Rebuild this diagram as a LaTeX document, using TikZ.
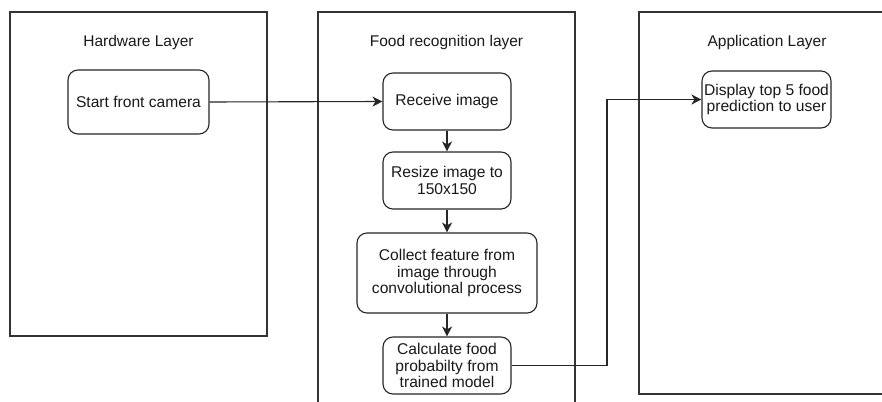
\documentclass[tikz,border=0pt]{standalone}
\usepackage{fontspec}
\setmainfont{Liberation Sans}
\usetikzlibrary{arrows.meta}
\begin{document}
\begin{tikzpicture}[x=1pt,y=-1pt,
  layer/.style={draw=black!80,line width=1.1pt,rectangle,inner sep=0pt},
  ttl/.style={font=\fontsize{15.5}{17}\selectfont,text=black!90},
  stepbox/.style={draw=black!85,line width=1.1pt,rounded corners=10pt,align=center,inner sep=0pt,
    font=\fontsize{15.6}{16.7}\selectfont,text=black!90},
  conn/.style={draw=black!85,line width=1.1pt,-{Stealth[length=10pt,width=10pt,inset=3pt]}}]
\useasboundingbox (0,0) rectangle (882,401);
\clip (0,0) rectangle (882,401);
\fill[white] (0,0) rectangle (882,401);
% layers
\node[layer,minimum width=257pt,minimum height=324pt] (hw) at (138.5,174) {};
\node[layer,minimum width=257pt,minimum height=408pt] (fr) at (446.5,216) {};
\node[layer,minimum width=256pt,minimum height=382pt] (ap) at (767,203) {};
% titles
\node[ttl] (hwt) at (138.5,42) {Hardware Layer};
\node[ttl] (frt) at (446.5,42) {Food recognition layer};
\node[ttl] (apt) at (767,42) {Application Layer};
% steps
\node[stepbox,minimum width=141pt,minimum height=64pt] (start) at (138.5,102) {Start front camera};
\node[stepbox,minimum width=128pt,minimum height=57pt] (recv) at (447,101.5) {Receive image};
\node[stepbox,minimum width=128pt,minimum height=57pt] (resize) at (447,180.5) {Resize image to\\150x150};
\node[stepbox,minimum width=180pt,minimum height=80pt] (collect) at (447,273) {Collect feature from\\image through\\convolutional process};
\node[stepbox,minimum width=128pt,minimum height=57pt] (calc) at (447,365.5) {Calculate food\\probabilty from\\trained model};
\node[stepbox,minimum width=129pt,minimum height=57pt] (disp) at (766.5,99.5) {Display top 5 food\\prediction to user};
% connectors
\draw[conn] (start.east) -- (recv.west);
\draw[conn] (recv) -- (resize);
\draw[conn] (resize) -- (collect);
\draw[conn] (collect) -- (calc);
\coordinate (j1) at (607,365.5);
\coordinate (j2) at (607,99.5);
\draw[conn] (calc.east) -- (j1) -- (j2) -- (disp.west);
\end{tikzpicture}
\end{document}
